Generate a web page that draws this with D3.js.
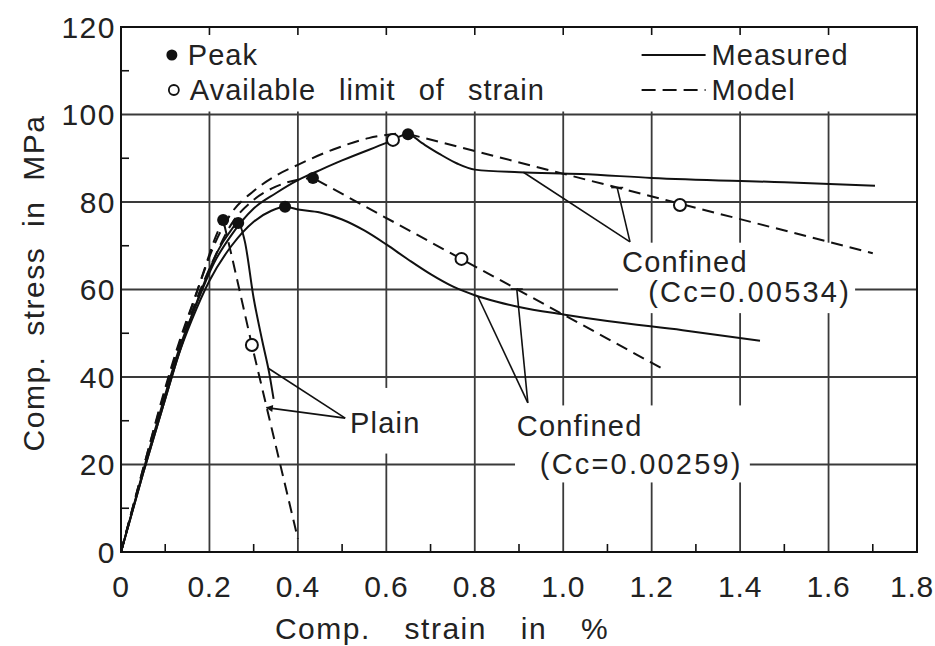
<!DOCTYPE html>
<html><head><meta charset="utf-8">
<script src="https://cdn.jsdelivr.net/npm/d3@7"></script>
<style>
html,body{margin:0;padding:0;background:#fff;}
svg{display:block;font-family:"Liberation Sans",Arial,sans-serif;}
</style></head><body>
<svg id="chart" width="935" height="646"></svg>
<script>
// ---------------- data ----------------
const xTickValues = [0,0.2,0.4,0.6,0.8,1.0,1.2,1.4,1.6,1.8];
const xTickLabels = ["0","0.2","0.4","0.6","0.8","1.0","1.2","1.4","1.6","1.8"];
const yTickValues = [0,20,40,60,80,100,120];
const yTickLabels = ["0","20","40","60","80","100","120"];
const xMinorTicks = [0.1,0.3,0.5,0.7,0.9,1.1,1.3,1.5,1.7];
const yMinorTicks = [10,30,50,70,90,110];
const xGrid = [0.2,0.4,0.6,0.8,1.0,1.2,1.4,1.6];
const yGrid = [20,40,60,80,100];

// Plain concrete
const plainMeasured = [[0,0],[0.05,18],[0.10,35],[0.13,45],[0.16,54],[0.19,62],[0.22,69],[0.245,73],[0.265,75.2],[0.28,71],[0.30,58],[0.32,48],[0.335,41],[0.345,35]];
const plainModel = [[0,0],[0.05,19],[0.10,37],[0.13,47],[0.16,56],[0.19,65],[0.21,71],[0.231,75.9],[0.251,67.4],[0.296,47.3],[0.40,3]];
// Confined Cc=0.00259
const conf259Measured = [[0,0],[0.05,18],[0.10,35],[0.13,45],[0.16,53],[0.20,62],[0.25,70],[0.30,75.5],[0.34,78],[0.371,78.9],[0.40,78.3],[0.45,77.6],[0.50,76],[0.55,73.5],[0.60,70.3],[0.65,66.8],[0.70,63.5],[0.75,60.7],[0.80,58.7],[0.85,57.2],[0.90,56],[1.0,54.3],[1.1,52.8],[1.27,50.7],[1.445,48.3]];
const conf259Model = [[0,0],[0.05,18.5],[0.10,36],[0.13,46],[0.17,57.5],[0.21,67],[0.25,75],[0.30,80.5],[0.35,83.5],[0.40,85.1],[0.434,85.5],[1.23,41.6]];
// Confined Cc=0.00534
const conf534Measured = [[0,0],[0.05,18.5],[0.10,36],[0.13,46],[0.17,56.5],[0.21,66],[0.25,72.5],[0.30,78.5],[0.35,82],[0.40,85],[0.45,87.3],[0.50,89.5],[0.60,93.5],[0.649,95.5],[0.68,93.5],[0.72,91],[0.76,88.8],[0.80,87.4],[0.90,86.8],[1.04,86.4],[1.20,85.5],[1.50,84.5],[1.705,83.7]];
const conf534Model = [[0,0],[0.05,19],[0.10,37.5],[0.13,47.5],[0.17,59],[0.21,70],[0.25,77.5],[0.30,82.5],[0.35,86],[0.40,88.5],[0.48,92],[0.56,94.6],[0.64,95.8],[1.70,68.3]];

const peakPoints = [[0.231,75.9],[0.265,75.2],[0.371,78.9],[0.434,85.5],[0.649,95.5]];
const limitPoints = [[0.296,47.3],[0.77,67.0],[1.264,79.3],[0.615,94.2]];

// ---------------- layout ----------------
const svg = d3.select("#chart");
const x = d3.scaleLinear().domain([0,1.8]).range([121,917]);
const y = d3.scaleLinear().domain([0,120]).range([552,27]);
const ink = "#111";
const gridCol = "#3a3a3a";

svg.append("defs").append("marker").attr("id","arr").attr("viewBox","0 0 10 10")
  .attr("refX",9).attr("refY",5).attr("markerWidth",9).attr("markerHeight",7)
  .attr("markerUnits","userSpaceOnUse").attr("orient","auto")
  .append("path").attr("d","M0,0 L10,5 L0,10 Z").attr("fill",ink);

const g = svg.append("g");

// grid
g.selectAll(".hg").data(yGrid).enter().append("line")
  .attr("x1",x(0)).attr("x2",x(1.8)).attr("y1",d=>y(d)).attr("y2",d=>y(d))
  .attr("stroke",gridCol).attr("stroke-width",1.8);
g.selectAll(".vg").data(xGrid).enter().append("line")
  .attr("x1",d=>x(d)).attr("x2",d=>x(d)).attr("y1",y(0)).attr("y2",y(100)-3)
  .attr("stroke",gridCol).attr("stroke-width",1.8);

// top ticks
g.selectAll(".tt").data(xGrid).enter().append("line")
  .attr("x1",d=>x(d)).attr("x2",d=>x(d)).attr("y1",y(120)).attr("y2",y(120)+8)
  .attr("stroke",ink).attr("stroke-width",1.6);
// bottom minor ticks
g.selectAll(".bt").data(xMinorTicks).enter().append("line")
  .attr("x1",d=>x(d)).attr("x2",d=>x(d)).attr("y1",y(0)).attr("y2",y(0)-8)
  .attr("stroke",ink).attr("stroke-width",1.6);
// left minor ticks
g.selectAll(".lt").data(yMinorTicks).enter().append("line")
  .attr("x1",x(0)).attr("x2",x(0)+8).attr("y1",d=>y(d)).attr("y2",d=>y(d))
  .attr("stroke",ink).attr("stroke-width",1.6);

// frame
g.append("rect").attr("x",x(0)).attr("y",y(120)).attr("width",x(1.8)-x(0)).attr("height",y(0)-y(120))
  .attr("fill","none").attr("stroke",ink).attr("stroke-width",2);

// white boxes behind annotation text (grid is broken there)
const boxes = [
  [0.504,37.5,0.695,22.5],   // Plain
  [0.891,33.5,1.422,15.9],   // Confined 0.00259
  [1.124,70.7,1.660,54.6]    // Confined 0.00534
];
g.selectAll(".box").data(boxes).enter().append("rect")
  .attr("x",d=>x(d[0])).attr("y",d=>y(d[1]))
  .attr("width",d=>x(d[2])-x(d[0])).attr("height",d=>y(d[3])-y(d[1]))
  .attr("fill","#fff");

// curves
const smooth = d3.line().x(d=>x(d[0])).y(d=>y(d[1])).curve(d3.curveMonotoneX);
const straight = d3.line().x(d=>x(d[0])).y(d=>y(d[1])).curve(d3.curveLinear);
function drawMeasured(data){
  g.append("path").attr("d",smooth(data)).attr("fill","none").attr("stroke",ink).attr("stroke-width",2);
}
function drawModel(data){
  const pk = d3.maxIndex(data,d=>d[1]);
  g.append("path").attr("d",smooth(data.slice(0,pk+1))).attr("fill","none").attr("stroke",ink)
    .attr("stroke-width",2).attr("stroke-dasharray","12,7");
  g.append("path").attr("d",straight(data.slice(pk))).attr("fill","none").attr("stroke",ink)
    .attr("stroke-width",2).attr("stroke-dasharray","12,7").attr("stroke-dashoffset",-4);
}
drawMeasured(plainMeasured);
drawModel(plainModel);
drawMeasured(conf259Measured);
drawModel(conf259Model);
drawMeasured(conf534Measured);
drawModel(conf534Model);

// points
g.selectAll(".peak").data(peakPoints).enter().append("circle")
  .attr("cx",d=>x(d[0])).attr("cy",d=>y(d[1])).attr("r",6).attr("fill",ink);
g.selectAll(".lim").data(limitPoints).enter().append("circle")
  .attr("cx",d=>x(d[0])).attr("cy",d=>y(d[1])).attr("r",6)
  .attr("fill","#fff").attr("stroke",ink).attr("stroke-width",2);

// leader lines
const leaders = [
  {a:[0.507,30.6], b:[0.333,42.0], arrow:false},
  {a:[0.507,30.6], b:[0.329,33.0], arrow:true},
  {a:[0.920,34.1], b:[0.807,58.4], arrow:false},
  {a:[0.920,34.1], b:[0.895,60.1], arrow:false},
  {a:[1.151,70.9], b:[0.910,86.8], arrow:false},
  {a:[1.151,70.9], b:[1.122,83.3], arrow:false}
];
g.selectAll(".leader").data(leaders).enter().append("line")
  .attr("x1",d=>x(d.a[0])).attr("y1",d=>y(d.a[1]))
  .attr("x2",d=>x(d.b[0])).attr("y2",d=>y(d.b[1]))
  .attr("stroke",ink).attr("stroke-width",1.6)
  .attr("marker-end",d=>d.arrow?"url(#arr)":null);
// small cross bars where leaders meet the model lines
const leaderBars = [[0.895,60.1],[1.122,83.3]];
g.selectAll(".lbar").data(leaderBars).enter().append("line")
  .attr("x1",d=>x(d[0])-6).attr("x2",d=>x(d[0])+6).attr("y1",d=>y(d[1])).attr("y2",d=>y(d[1]))
  .attr("stroke",ink).attr("stroke-width",1.6);

// annotation text
const notes = [
  {t:"Plain", x:0.518, y:29.5, ls:1.2},
  {t:"Confined", x:0.895, y:28.8, ls:1.2},
  {t:"(Cc=0.00259)", x:0.947, y:20.3, ls:2.2},
  {t:"Confined", x:1.133, y:66.5, ls:1.2},
  {t:"(Cc=0.00534)", x:1.192, y:59.6, ls:2.2}
];
g.selectAll(".note").data(notes).enter().append("text")
  .attr("x",d=>x(d.x)).attr("y",d=>y(d.y)).attr("dy","0.36em")
  .attr("font-size",29).attr("letter-spacing",d=>d.ls).attr("fill","#222")
  .text(d=>d.t);

// legend
const legItems = [
  {t:"Peak", mark:"dot", x:0.115, y:113.6},
  {t:"Available limit of strain", mark:"ring", x:0.115, y:105.6},
  {t:"Measured", mark:"solid", x:1.426, y:113.6},
  {t:"Model", mark:"dash", x:1.426, y:105.6}
];
const leg = g.append("g");
legItems.forEach(it=>{
  const cx = x(it.x), cy = y(it.y);
  if(it.mark==="dot"){
    leg.append("circle").attr("cx",cx).attr("cy",cy).attr("r",5.5).attr("fill",ink);
    leg.append("text").attr("x",cx+16).attr("y",cy).attr("dy","0.36em").attr("font-size",29).attr("letter-spacing",1).attr("fill","#222").text(it.t);
  } else if(it.mark==="ring"){
    leg.append("circle").attr("cx",cx+2).attr("cy",cy).attr("r",5).attr("fill","#fff").attr("stroke",ink).attr("stroke-width",1.8);
    leg.append("text").attr("x",cx+18).attr("y",cy).attr("dy","0.36em").attr("font-size",29).attr("letter-spacing",1).attr("word-spacing",14).attr("fill","#222").text(it.t);
  } else {
    leg.append("line").attr("x1",cx-110).attr("x2",cx-46).attr("y1",cy).attr("y2",cy)
      .attr("stroke",ink).attr("stroke-width",2).attr("stroke-dasharray",it.mark==="dash"?"14,7":null);
    leg.append("text").attr("x",cx-40).attr("y",cy).attr("dy","0.36em").attr("font-size",29).attr("letter-spacing",1).attr("fill","#222").text(it.t);
  }
});

// tick labels
g.selectAll(".xl").data(xTickValues).enter().append("text")
  .attr("x",d=>Math.min(x(d), 912)).attr("y",y(0)+34).attr("dy","0.36em")
  .attr("text-anchor","middle").attr("font-size",30).attr("letter-spacing",0.8).attr("fill","#222")
  .text((d,i)=>xTickLabels[i]);
g.selectAll(".yl").data(yTickValues).enter().append("text")
  .attr("x",x(0)-5).attr("y",d=>y(d)).attr("dy","0.36em")
  .attr("text-anchor","end").attr("font-size",30).attr("letter-spacing",1.5).attr("fill","#222")
  .text((d,i)=>yTickLabels[i]);

// axis titles
g.append("text").attr("x",442).attr("y",628).attr("dy","0.36em").attr("text-anchor","middle")
  .attr("font-size",30).attr("letter-spacing",1.5).attr("word-spacing",24).attr("fill","#222")
  .text("Comp. strain in %");
g.append("text").attr("transform","translate(33,283) rotate(-90)").attr("dy","0.36em").attr("text-anchor","middle")
  .attr("font-size",30).attr("letter-spacing",1.5).attr("word-spacing",10).attr("fill","#222")
  .text("Comp. stress in MPa");
</script>
</body></html>
